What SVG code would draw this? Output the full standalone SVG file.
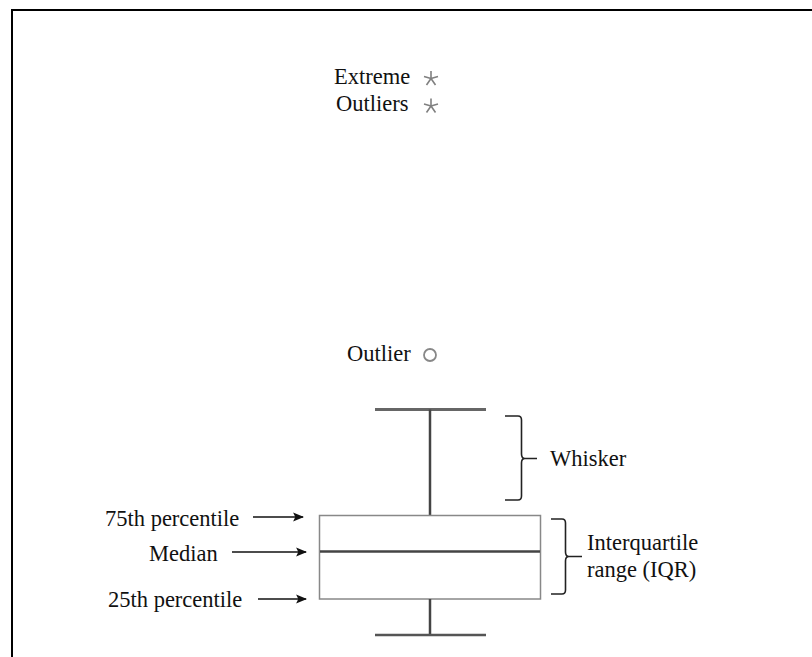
<svg xmlns="http://www.w3.org/2000/svg" width="812" height="657" viewBox="0 0 812 657">
<style>
text{font-family:"Liberation Serif","Times New Roman",serif;font-size:22.5px;fill:#111}
.brace{fill:none;stroke:#222;stroke-width:1.6}
.arrow{stroke:#111;stroke-width:1.6;fill:none}
.star{stroke:#808080;stroke-width:1.6;fill:none}
</style>
<defs>
<marker id="ah" viewBox="0 0 10 10" refX="9" refY="5" markerWidth="11" markerHeight="11" markerUnits="userSpaceOnUse" orient="auto">
<path d="M0,1 L10,5 L0,9 L2,5 Z" fill="#111"/>
</marker>
</defs>
<rect x="0" y="0" width="812" height="657" fill="#fff"/>
<rect x="12" y="10" width="820" height="680" fill="none" stroke="#000" stroke-width="2"/>
<g id="extreme">
<text x="334" y="84">Extreme</text>
<path class="star" d="M431,71 V78.5 M431,78.5 L424,76.5 M431,78.5 L438,76.5 M431,78.5 L426.5,85 M431,78.5 L435.5,85"/>
</g>
<g id="outliers">
<text x="336" y="111">Outliers</text>
<path class="star" d="M431,98.5 V106 M431,106 L424,104 M431,106 L438,104 M431,106 L426.5,112.5 M431,106 L435.5,112.5"/>
</g>
<g id="outlier">
<text x="347" y="361">Outlier</text>
<circle cx="430" cy="355" r="6" fill="none" stroke="#888" stroke-width="1.8"/>
</g>
<g id="boxplot">
<line x1="375" y1="409.5" x2="486" y2="409.5" stroke="#666" stroke-width="3"/>
<line x1="430" y1="409.5" x2="430" y2="515" stroke="#444" stroke-width="2.5"/>
<rect x="319.5" y="515.5" width="221" height="83.5" fill="#fff" stroke="#888" stroke-width="1.5"/>
<line x1="320" y1="551.5" x2="540" y2="551.5" stroke="#444" stroke-width="2.5"/>
<line x1="430" y1="599" x2="430" y2="635" stroke="#444" stroke-width="2.5"/>
<line x1="375" y1="635" x2="486" y2="635" stroke="#555" stroke-width="2.5"/>
</g>
<g id="whisker-label">
<path class="brace" d="M505,416 H518 Q521.5,416 521.5,420 V454 Q521.5,458.5 525,458.5 H537 M525,458.5 Q521.5,458.5 521.5,463 V496 Q521.5,500 518,500 H505"/>
<text x="550" y="466">Whisker</text>
</g>
<g id="iqr-label">
<path class="brace" d="M551,519 H562 Q565.5,519 565.5,523 V552 Q565.5,556.5 569,556.5 H582 M569,556.5 Q565.5,556.5 565.5,561 V590 Q565.5,594 562,594 H551"/>
<text x="587" y="550">Interquartile</text>
<text x="587" y="577">range (IQR)</text>
</g>
<g id="p75"><text x="105" y="526">75th percentile</text></g>
<g id="median"><text x="149" y="561">Median</text></g>
<g id="p25"><text x="108" y="607">25th percentile</text></g>
<g id="connectors">
<line class="arrow" x1="253" y1="517" x2="303" y2="517" marker-end="url(#ah)"/>
<line class="arrow" x1="232" y1="552" x2="306" y2="552" marker-end="url(#ah)"/>
<line class="arrow" x1="258" y1="599" x2="306" y2="599" marker-end="url(#ah)"/>
</g>
</svg>
